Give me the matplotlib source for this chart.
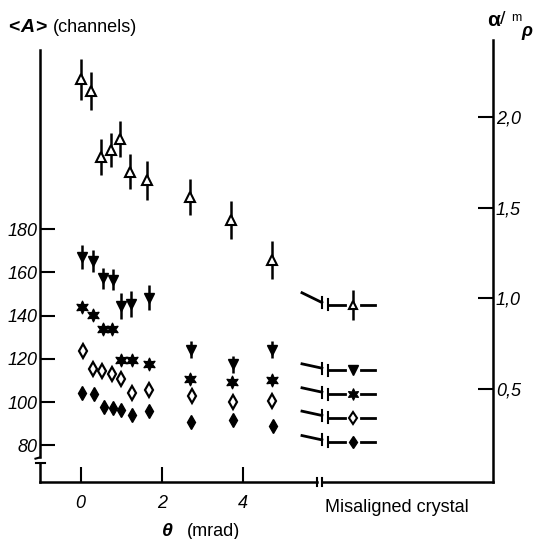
import matplotlib
matplotlib.use('Agg')
import matplotlib.pyplot as plt

plt.rcParams['font.family'] = ['Liberation Sans', 'DejaVu Sans']

# values: theta in mrad, <A> in channels
theta_up = [0.0, 0.26, 0.51, 0.74, 0.97, 1.21, 1.64, 2.69, 3.72, 4.71]
a_up = [249.4, 244.0, 213.5, 216.6, 221.7, 206.5, 202.7, 195.0, 184.5, 165.6]
err_up = [9.5, 9.0, 8.4, 8.0, 8.3, 8.1, 9.1, 8.3, 8.8, 8.8]

theta_down = [0.04, 0.30, 0.55, 0.80, 0.99, 1.25, 1.69, 2.73, 3.75, 4.72]
a_down = [167.2, 165.2, 157.2, 156.7, 144.4, 145.6, 148.4, 124.3, 117.5, 124.3]
err_down = [5.5, 5.0, 5.0, 5.0, 6.0, 6.0, 6.0, 4.0, 4.0, 4.0]

theta_star = [0.04, 0.30, 0.55, 0.78, 1.00, 1.27, 1.69, 2.71, 3.74, 4.72]
a_star = [144.0, 140.2, 133.6, 133.6, 119.7, 119.4, 117.8, 110.9, 109.3, 110.1]

theta_odia = [0.06, 0.30, 0.54, 0.77, 1.00, 1.27, 1.70, 2.75, 3.75, 4.72]
a_odia = [123.7, 115.5, 114.3, 113.2, 110.9, 104.4, 105.5, 102.7, 100.0, 100.5]

theta_fdia = [0.04, 0.32, 0.58, 0.80, 1.00, 1.27, 1.70, 2.73, 3.75, 4.75]
a_fdia = [104.4, 103.9, 97.7, 97.3, 96.2, 93.9, 95.7, 90.8, 91.6, 88.9]

# misaligned crystal points (up, down, star, open diamond, filled diamond)
theta_mis = 6.72
a_mis = [145.1, 114.7, 103.6, 92.8, 81.5]
err_mis_up = 7.0

left_ticks = [80, 100, 120, 140, 160, 180]
right_ticks = [0.5, 1.0, 1.5, 2.0]
right_labels = ['0,5', '1,0', '1,5', '2,0']
x_ticks = [0, 2, 4]

fig = plt.figure(figsize=(5.35, 5.39), dpi=100)
ax = fig.add_axes([40/535, 1-482/539, 453/535, 442/539])
ax.set_xlim(-1.0, 10.17)
ax.set_ylim(63, 267.6)

mk = dict(color='black', linestyle='none', elinewidth=1.8, capsize=0)
ax.errorbar(theta_up, a_up, yerr=err_up, fmt='^', ms=7, mfc='white', mec='black', mew=1.5, **mk)
ax.errorbar([theta_mis], [a_mis[0]], yerr=[err_mis_up], fmt='^', ms=6, mfc='white', mec='black', mew=1.5, **mk)
ax.errorbar(theta_down, a_down, yerr=err_down, fmt='v', ms=7.5, **mk)
ax.plot(theta_star, a_star, marker=(6, 1, 0), ms=9.5, mew=0.8, color='black', linestyle='none')
ax.plot(theta_odia, a_odia, marker='d', ms=7, mfc='white', mec='black', mew=1.6, linestyle='none')
ax.plot(theta_fdia, a_fdia, marker='d', ms=7, color='black', linestyle='none')

ax.plot([theta_mis], [a_mis[1]], marker='v', ms=7, color='black', linestyle='none')
ax.plot([theta_mis], [a_mis[2]], marker=(6, 1, 0), ms=8.5, mew=0.8, color='black', linestyle='none')
ax.plot([theta_mis], [a_mis[3]], marker='d', ms=6, mfc='white', mec='black', mew=1.5, linestyle='none')
ax.plot([theta_mis], [a_mis[4]], marker='d', ms=6.5, color='black', linestyle='none')

# broken horizontal bars of the misaligned points
rise = [4.5, 2.0, 2.0, 2.0, 2.0]
for y, r in zip(a_mis, rise):
    ax.plot([5.46, 5.95], [y + r + 1, y + 1], color='black', lw=2.0)
    ax.plot([5.95, 5.95], [y - 1.5, y + 3.5], color='black', lw=1.5)
    ax.plot([6.10, 6.10], [y - 2.5, y + 2.5], color='black', lw=1.5)
    ax.plot([6.10, 6.52], [y, y], color='black', lw=2.0)
    ax.plot([6.92, 7.26], [y, y], color='black', lw=2.0)

# axes styling
ax.spines['top'].set_visible(False)
ax.spines['right'].set_visible(False)
ax.spines['left'].set_linewidth(1.8)
ax.spines['bottom'].set_linewidth(1.8)
ax.spines['left'].set_bounds(74.4, 262.9)
ax.spines['bottom'].set_bounds(-1.0, 5.83)

xt = ax.get_xaxis_transform()
yt = ax.get_yaxis_transform()
ax.plot([5.95, 10.17], [0, 0], transform=xt, color='black', lw=1.8, clip_on=False)
ax.plot([5.83, 5.83], [-0.009, 0.009], transform=xt, color='black', lw=1.5, clip_on=False)
ax.plot([5.95, 5.95], [-0.009, 0.009], transform=xt, color='black', lw=1.5, clip_on=False)
ax.plot([0, 0], [63, 71.7], transform=yt, color='black', lw=1.8, clip_on=False)
ax.plot([-0.008, 0.010], [71.7, 71.7], transform=yt, color='black', lw=1.5, clip_on=False)
ax.plot([-0.010, 0.0], [73.8, 74.4], transform=yt, color='black', lw=1.5, clip_on=False)

ax.set_xticks(x_ticks)
ax.set_xticklabels([str(t) for t in x_ticks], fontsize=13, fontstyle='italic')
ax.set_yticks(left_ticks)
ax.set_yticklabels([str(t) for t in left_ticks], fontsize=13, fontstyle='italic')
ax.tick_params(axis='x', direction='in', length=11, width=1.5, pad=9)
ax.tick_params(axis='y', direction='in', length=11, width=1.5, pad=2)

ax2 = ax.twinx()
ax2.set_ylim(-0.013, 2.425)
for s in ['top', 'left', 'bottom']:
    ax2.spines[s].set_visible(False)
ax2.spines['right'].set_linewidth(1.8)
ax2.set_yticks(right_ticks)
ax2.set_yticklabels(right_labels, fontsize=13, fontstyle='italic')
ax2.tick_params(axis='y', direction='in', length=11, width=1.5, pad=2)

# labels
fig.text(8/535, 1-28/539, '<', fontsize=14, fontweight='bold', va='center')
fig.text(20/535, 1-28/539, 'A', fontsize=14, fontweight='bold', fontstyle='italic', va='center')
fig.text(35/535, 1-28/539, '>', fontsize=14, fontweight='bold', va='center')
fig.text(53/535, 1-28/539, '(channels)', fontsize=13, va='center')
fig.text(487/535, 1-21/539, 'α', fontsize=15, fontweight='bold', va='center')
fig.text(500/535, 1-20/539, '/', fontsize=14, va='center')
fig.text(511/535, 1-18/539, 'm', fontsize=9, va='center')
fig.text(521/535, 1-31/539, 'ρ', fontsize=13, fontweight='bold', fontstyle='italic', va='center')
fig.text(162/535, 1-531/539, 'θ', fontsize=14, fontweight='bold', fontstyle='italic', va='center')
fig.text(187/535, 1-531/539, '(mrad)', fontsize=13, va='center')
fig.text(325/535, 1-508/539, 'Misaligned crystal', fontsize=13, va='center')

fig.savefig('out.png', dpi=100)
